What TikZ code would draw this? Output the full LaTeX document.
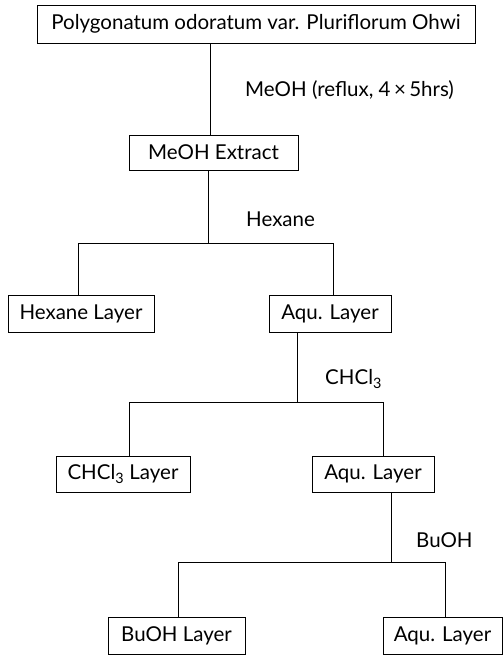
\documentclass[tikz,border=0pt]{standalone}
\usepackage{fontspec}
\setmainfont{Lato}
\begin{document}
\begin{tikzpicture}[x=1pt,y=1pt,
  box/.style={draw,line width=0.8pt,inner sep=0pt,font=\fontsize{20.5}{24}\selectfont},
  lbl/.style={anchor=west,inner sep=0pt,font=\fontsize{20.5}{24}\selectfont},
  conn/.style={line width=0.8pt}]
\useasboundingbox (0,0) rectangle (503,-657);
\node[box,minimum width=438,minimum height=38] (top) at (256,-24) {Polygonatum odoratum var. Pluriflorum Ohwi};
\node[box,minimum width=169,minimum height=35] (meoh) at (213.5,-152.5) {MeOH Extract};
\node[box,minimum width=146,minimum height=37] (hex) at (81,-313.5) {Hexane Layer};
\node[box,minimum width=122,minimum height=37] (aq1) at (330,-313.5) {Aqu. Layer};
\node[box,minimum width=134,minimum height=36] (chcl) at (123,-474) {CHCl\textsubscript{3} Layer};
\node[box,minimum width=122,minimum height=36] (aq2) at (373,-474) {Aqu. Layer};
\node[box,minimum width=137,minimum height=37] (buoh) at (176.5,-635.5) {BuOH Layer};
\node[box,minimum width=119,minimum height=37] (aq3) at (442.5,-635.5) {Aqu. Layer};
\node[lbl] (l1) at (245,-90) {MeOH (reflux, 4\,×\,5hrs)};
\node[lbl] (l2) at (246,-219) {Hexane};
\node[lbl] (l3) at (325,-379) {CHCl\textsubscript{3}};
\node[lbl] (l4) at (416,-540) {BuOH};
\coordinate (s1) at (210,0);
\draw[conn] (top.south -| s1) -- (meoh.north -| s1);
\coordinate (j2) at (208,-243);
\coordinate (j2l) at (78,-243);
\coordinate (j2r) at (333,-243);
\draw[conn] (meoh.south -| j2) -- (j2);
\draw[conn] (hex.north -| j2l) -- (j2l) -- (j2r) -- (aq1.north -| j2r);
\coordinate (j3) at (297,-402);
\coordinate (j3l) at (129,-402);
\coordinate (j3r) at (383,-402);
\draw[conn] (aq1.south -| j3) -- (j3);
\draw[conn] (chcl.north -| j3l) -- (j3l) -- (j3r) -- (aq2.north -| j3r);
\coordinate (j4) at (391,-562);
\coordinate (j4l) at (178,-562);
\coordinate (j4r) at (445,-562);
\draw[conn] (aq2.south -| j4) -- (j4);
\draw[conn] (buoh.north -| j4l) -- (j4l) -- (j4r) -- (aq3.north -| j4r);
\end{tikzpicture}
\end{document}
